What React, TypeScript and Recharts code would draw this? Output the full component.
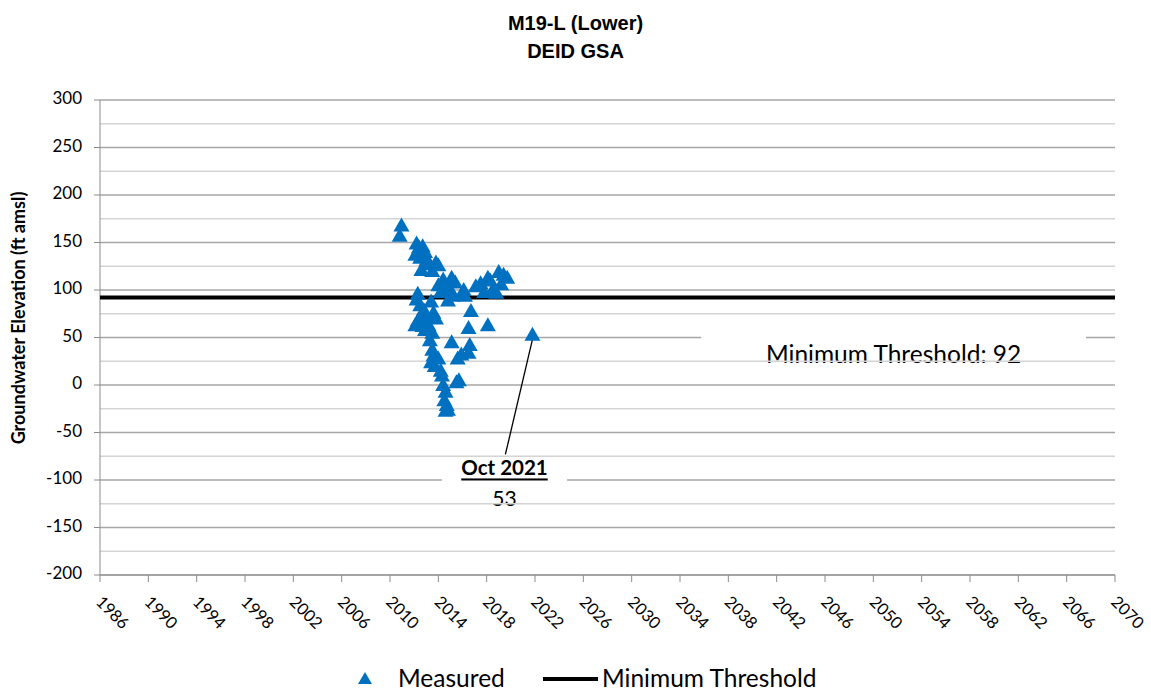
import React from 'react';
import {
  ComposedChart, Scatter, XAxis, YAxis, CartesianGrid, ReferenceLine, ReferenceArea,
} from 'recharts';

const measuredDates = [
  2010.95, 2010.8,
  2012.2, 2012.35, 2012.1, 2012.5, 2012.7, 2012.9, 2013.0, 2012.6, 2013.3, 2013.8, 2014.0, 2013.5, 2012.4, 2012.8,
  2012.3, 2012.5, 2012.3, 2012.1, 2012.6, 2012.8, 2013.1, 2013.2, 2012.9, 2012.4, 2013.4, 2013.6, 2013.8, 2013.5, 2012.2, 2012.7,
  2013.3, 2013.5, 2013.6, 2013.4, 2013.7, 2014.3, 2014.4, 2014.6, 2014.5, 2014.7, 2014.8, 2014.6, 2015.1, 2014.2, 2014.0,
  2014.0, 2014.4, 2015.0, 2014.8, 2015.2, 2015.4, 2015.1, 2014.2, 2014.6,
  2016.7, 2016.5, 2016.6, 2016.5, 2015.6, 2015.9, 2015.7, 2015.5, 2018.1,
  2016.1, 2016.2, 2017.1, 2017.5, 2018.1, 2018.5, 2019.0, 2019.2, 2019.4, 2019.7, 2017.8, 2018.8, 2016.0, 2018.3,
  2021.79,
];
const measuredValues = [
  168, 157,
  149, 142, 137, 134, 146, 140, 131, 121, 127, 129, 126, 120, 145, 136,
  96, 84, 68, 63, 73, 79, 71, 63, 58, 66, 88, 76, 70, 55, 90, 62,
  47, 37, 31, 24, 20, 10, 0, -7, -16, -21, -26, -27, 45, 15, 28,
  105, 111, 100, 89, 94, 108, 113, 98, 102,
  78, 60, 42, 34, 28, 32, 5, 3, 63,
  100, 94, 104, 107, 113, 100, 119, 106, 116, 113, 98, 97, 96, 110,
  53,
];
const thresholdDates = [1986, 2070];
const thresholdValues = [92, 92];
const xTicks = [1986, 1990, 1994, 1998, 2002, 2006, 2010, 2014, 2018, 2022, 2026, 2030, 2034, 2038, 2042, 2046, 2050, 2054, 2058, 2062, 2066, 2070];
const yTicks = [-200, -150, -100, -50, 0, 50, 100, 150, 200, 250, 300];
const minorGrid = [-175, -125, -75, -25, 25, 75, 125, 175, 225, 275];

const lastLabel = 'Oct 2021';
const lastValue = 53;
const thresholdLabel = 'Minimum Threshold: 92';

const measured = measuredDates.map((d, i) => ({ x: d, y: measuredValues[i] }));
const threshold = thresholdDates.map((d, i) => ({ x: d, y: thresholdValues[i] }));

const BODY_FONT = 'Lato, "Open Sans", sans-serif';
const BLUE = '#0070C0';

const Triangle = (props: any) => {
  const { cx, cy } = props;
  if (cx == null || cy == null) return <g />;
  return <path d={`M${cx},${cy - 8} L${cx + 8},${cy + 6} L${cx - 8},${cy + 6} Z`} fill={BLUE} />;
};

const XTick = (props: any) => {
  const { x, y, payload } = props;
  return (
    <g transform={`translate(${x - 2},${y + 18})`}>
      <text x={0} y={0} transform="rotate(45)" textAnchor="start" dominantBaseline="middle"
        fontFamily={BODY_FONT} fontSize={16.5} fill="#000">{payload.value}</text>
    </g>
  );
};

const YTick = (props: any) => {
  const { x, y, payload } = props;
  return (
    <text x={x} y={y} textAnchor="end" dominantBaseline="middle" fontFamily={BODY_FONT} fontSize={17} fill="#000">
      {payload.value}
    </text>
  );
};

export default function App() {
  return (
    <div style={{ position: 'absolute', left: 0, top: 0, width: 1151, height: 694, background: '#fff' }}>
      <div style={{ position: 'absolute', left: 0, top: 9, width: 1151, textAlign: 'center', fontFamily: '"Liberation Sans", Arial, sans-serif', fontWeight: 'bold', fontSize: 20, lineHeight: '28px', color: '#000', zIndex: 2 }}>
        <div>M19-L (Lower)</div>
        <div>DEID GSA</div>
      </div>
      <ComposedChart width={1151} height={694} margin={{ top: 100, right: 36, bottom: 89, left: 0 }}>
        <CartesianGrid horizontal vertical={false} stroke="#a6a6a6" strokeWidth={1.3} />
        {minorGrid.map((v) => (
          <ReferenceLine key={v} y={v} stroke="#d4d4d4" strokeWidth={1.3} />
        ))}
        <XAxis type="number" dataKey="x" domain={[1986, 2070]} ticks={xTicks} interval={0} height={30}
          stroke="#8c8c8c" tickSize={7} tickMargin={0} tick={<XTick />} allowDataOverflow />
        <YAxis type="number" dataKey="y" domain={[-200, 300]} ticks={yTicks} interval={0} width={100}
          stroke="#8c8c8c" tickSize={6} tickMargin={12} tick={<YTick />}
          label={{
            content: () => (
              <text x={0} y={0} transform="translate(20,318) rotate(-90)" textAnchor="middle" dominantBaseline="middle"
                fontFamily={BODY_FONT} fontWeight="bold" fontSize={18} fill="#000">
                Groundwater Elevation (ft amsl)
              </text>
            ),
          }} />
        <ReferenceArea x1={2035.75} x2={2067.6} y1={10} y2={58} fill="#fff" fillOpacity={1} stroke="none"
          label={{
            content: (p: any) => {
              const vb = p.viewBox;
              return (
                <text x={vb.x + vb.width / 2} y={vb.y + vb.height / 2 + 1} textAnchor="middle" dominantBaseline="central"
                  fontFamily={BODY_FONT} fontSize={24.5} fill="#000">{thresholdLabel}</text>
              );
            },
          }} />
        <ReferenceArea x1={2014.3} x2={2024.65} y1={-135} y2={-71} fill="#fff" fillOpacity={1} stroke="none"
          label={{
            content: (p: any) => {
              const vb = p.viewBox;
              const cx = vb.x + vb.width / 2;
              return (
                <g>
                  <text x={cx} y={vb.y + 15} textAnchor="middle" dominantBaseline="central"
                    fontFamily={BODY_FONT} fontWeight="bold" fontSize={20.5} fill="#000" textDecoration="underline">{lastLabel}</text>
                  <text x={cx} y={vb.y + 45} textAnchor="middle" dominantBaseline="central"
                    fontFamily={BODY_FONT} fontSize={21} fill="#000">{lastValue}</text>
                </g>
              );
            },
          }} />
        <ReferenceLine segment={[{ x: 2021.79, y: 48 }, { x: 2019.55, y: -73 }]} stroke="#000" strokeWidth={1.3} />
        <Scatter name="Minimum Threshold" data={threshold} line={{ stroke: '#000', strokeWidth: 4 }}
          shape={() => <g />} isAnimationActive={false} legendType="line" />
        <Scatter name="Measured" data={measured} fill={BLUE} shape={<Triangle />} isAnimationActive={false} legendType="triangle" />
      </ComposedChart>
      <svg width={1151} height={34} style={{ position: 'absolute', left: 0, top: 662 }}>
        <path d="M365,10 L372,22 L358,22 Z" fill={BLUE} />
        <text x={398} y={25} fontFamily={BODY_FONT} fontSize={24.5} fill="#000">Measured</text>
        <line x1={543} x2={598} y1={17} y2={17} stroke="#000" strokeWidth={4} />
        <text x={602} y={25} fontFamily={BODY_FONT} fontSize={24.5} fill="#000">Minimum Threshold</text>
      </svg>
    </div>
  );
}
